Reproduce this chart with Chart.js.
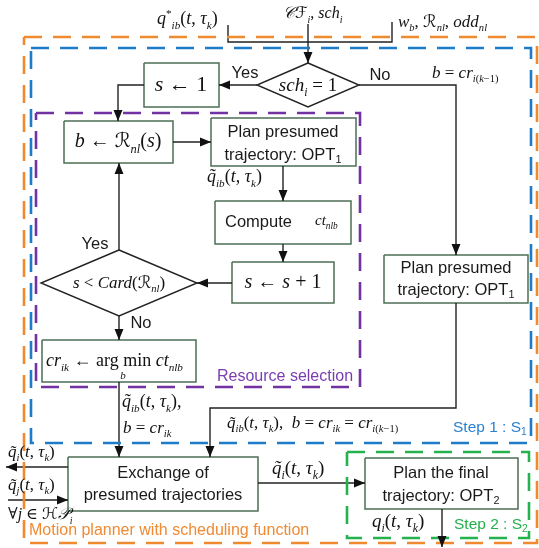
<!DOCTYPE html>
<html>
<head>
<meta charset="utf-8">
<script src="https://cdn.jsdelivr.net/npm/chart.js@4.4.1/dist/chart.umd.min.js"></script>
<style>
    html, body { margin: 0; padding: 0; background: #fff; }
    canvas { display: block; }
</style>
</head>
<body>
<canvas id="diagram" width="539" height="548"></canvas>
<script>
// Quadros tracejados: [x0, y0, x1, y1]
const frameNames = ['motion', 'step1', 'resource', 'step2'];
const frameRects = [[24, 37, 537, 543], [31, 48, 531, 443], [36, 113, 360, 387], [347, 452, 529, 538]];
const frameColors = ['#F08A30', '#1E7BC8', '#7232A2', '#23B24E'];

// Caixas: [x0, y0, x1, y1]
const boxRects = [
    [144, 63, 219, 107],   // s <- 1
    [64, 121, 173, 163],   // b <- R(s)
    [211, 118, 356, 166],  // plan presumed (OPT1)
    [215, 201, 351, 244],  // compute ct
    [232, 262, 334, 303],  // s <- s+1
    [42, 340, 196, 382],   // cr_ik <- argmin
    [384, 255, 528, 303],  // plan presumed (direita)
    [68, 457, 258, 511],   // exchange
    [365, 458, 518, 509]   // plan the final
];

// Losangos: [cx, cy, meia largura, meia altura]
const diamonds = [[308, 85, 51, 22], [119, 283, 78, 33]];

// Ligações: lista de pontos, último ponto = ponta da seta
const edges = [
    [[228, 25], [228, 42], [392, 42], [392, 22]],
    [[308, 24], [308, 63]],
    [[257, 85], [219, 85]],
    [[144, 85], [118, 85], [118, 121]],
    [[173, 142], [211, 142]],
    [[283, 166], [283, 201]],
    [[283, 244], [283, 262]],
    [[232, 283], [197, 283]],
    [[119, 250], [119, 163]],
    [[119, 316], [119, 340]],
    [[119, 382], [119, 457]],
    [[359, 85], [456, 85], [456, 255]],
    [[456, 303], [456, 408], [210, 408], [210, 457]],
    [[68, 467], [6, 467]],
    [[8, 500], [68, 500]],
    [[258, 483], [365, 483]],
    [[442, 509], [442, 547]]
];
const edgeArrows = [false, true, true, true, true, true, true, true, true, true, true, true, true, true, true, true, true];

// Textos matemáticos: [marcação, x, y, tamanho, alinhamento]
const mathLabels = [
    ['q^{*}_{ib}(t, τ_k)', 157, 19, 18, 'left'],
    ['𝒞ℱ_{i}, sch_{i}', 283, 14, 16, 'left'],
    ['w_{b}, ℛ_{nl}, odd_{nl}', 398, 22, 17, 'left'],
    ['sch_{i} = 1', 308, 86, 19, 'center'],
    ['b = cr_{i(k−1)}', 432, 73, 17, 'left'],
    ['s ← 1', 181, 85, 22, 'center'],
    ['b ← ℛ_{nl}(s)', 118, 142, 20, 'center'],
    ['q̃_{ib}(t, τ_k)', 207, 177, 18, 'left'],
    ['ct_{nlb}', 315, 221, 15, 'left'],
    ['s ← s + 1', 283, 283, 20, 'center'],
    ['s < Card(ℛ_{nl})', 119, 283, 17, 'center'],
    ['cr_{ik} ← #arg min# ct_{nlb}', 46, 361, 18, 'left'],
    ['b', 123, 376, 11, 'center'],
    ['q̃_{ib}(t, τ_k),', 122, 402, 18, 'left'],
    ['b = cr_{ik}', 123, 428, 17, 'left'],
    ['q̃_{ib}(t, τ_k),  b = cr_{ik} = cr_{i(k−1)}', 227, 423, 17, 'left'],
    ['q̃_{i}(t, τ_k)', 8, 452, 17, 'left'],
    ['q̃_{j}(t, τ_k)', 8, 485, 17, 'left'],
    ['∀j ∈ ℋ𝒫_{i}', 8, 515, 16, 'left'],
    ['q̃_{i}(t, τ_k)', 272, 469, 19, 'left'],
    ['q_{i}(t, τ_k)', 372, 522, 19, 'left']
];

// Textos sem serifa: [texto, x, y, alinhamento, cor, tamanho]
const sansLabels = [
    ['Yes', 245, 72, 'center', '#1a1a1a', 16.5],
    ['No', 380, 74, 'center', '#1a1a1a', 16.5],
    ['Plan presumed', 283, 131, 'center', '#1a1a1a', 16.5],
    ['trajectory: OPT_1', 283, 154, 'center', '#1a1a1a', 16.5],
    ['Compute', 225, 221, 'left', '#1a1a1a', 16.5],
    ['Yes', 95, 243, 'center', '#1a1a1a', 16.5],
    ['No', 141, 322, 'center', '#1a1a1a', 16.5],
    ['Resource selection', 285, 375, 'center', '#7A3DB0', 16],
    ['Plan presumed', 456, 267, 'center', '#1a1a1a', 16.5],
    ['trajectory: OPT_1', 456, 289, 'center', '#1a1a1a', 16.5],
    ['Step 1 : S_1', 453, 426, 'left', '#2A80D0', 15.5],
    ['Exchange of', 163, 472, 'center', '#1a1a1a', 16.5],
    ['presumed trajectories', 163, 494, 'center', '#1a1a1a', 16.5],
    ['Motion planner with scheduling function', 29, 529, 'left', '#F08A33', 16],
    ['Plan the final', 441, 472, 'center', '#1a1a1a', 16.5],
    ['trajectory: OPT_2', 441, 495, 'center', '#1a1a1a', 16.5],
    ['Step 2 : S_2', 454, 523, 'left', '#23B04C', 15.5]
];

const SERIF = "'Liberation Serif', 'DejaVu Serif', 'DejaVu Sans', serif";
const SANS = "'Liberation Sans', Arial, 'DejaVu Sans', sans-serif";
const BOX_COLOR = '#4C6F55';
const LINE_COLOR = '#222';

function rectPoints(r) {
    return [{x: r[0], y: r[1]}, {x: r[2], y: r[1]}, {x: r[2], y: r[3]}, {x: r[0], y: r[3]}, {x: r[0], y: r[1]}];
}

function diamondPoints(d) {
    return [{x: d[0], y: d[1] - d[3]}, {x: d[0] + d[2], y: d[1]}, {x: d[0], y: d[1] + d[3]},
            {x: d[0] - d[2], y: d[1]}, {x: d[0], y: d[1] - d[3]}];
}

function lineSet(points, color, width, dash) {
    return {
        data: points,
        showLine: true,
        borderColor: color,
        borderWidth: width,
        borderDash: dash || [],
        pointRadius: 0,
        fill: false,
        tension: 0
    };
}

const datasets = [];
frameRects.forEach((r, i) => datasets.push(lineSet(rectPoints(r), frameColors[i], 2.6, [18, 11])));
edges.forEach(e => datasets.push(lineSet(e.map(p => ({x: p[0], y: p[1]})), LINE_COLOR, 1.4)));
boxRects.forEach(r => datasets.push(lineSet(rectPoints(r), BOX_COLOR, 1.5)));
diamonds.forEach(d => datasets.push(lineSet(diamondPoints(d), '#222', 1.4)));

// Quebra a marcação em pedaços com estilo (itálico, subscrito, sobrescrito)
function parseRich(str, math) {
    const chars = Array.from(str);
    const segs = [];
    let roman = false;
    let i = 0;
    function addChar(t, level) {
        const script = /[ℛℱℋ𝒞𝒫]/u.test(t);
        const italic = math && !roman && (/[A-Za-zα-ω]/.test(t[0]) || script);
        const last = segs[segs.length - 1];
        if (last && last.level === level && last.italic === italic) last.text += t;
        else segs.push({text: t, level: level, italic: italic});
    }
    while (i < chars.length) {
        const c = chars[i];
        if (c === '#') { roman = !roman; i++; continue; }
        if (c === '_' || c === '^') {
            const level = c === '_' ? -1 : 1;
            i++;
            const group = [];
            if (chars[i] === '{') {
                i++;
                while (i < chars.length && chars[i] !== '}') group.push(chars[i++]);
                i++;
            } else {
                group.push(chars[i++]);
            }
            group.forEach(g => addChar(g, level));
            continue;
        }
        let t = c;
        i++;
        while (i < chars.length && /[\u0300-\u036f]/.test(chars[i])) t += chars[i++];
        addChar(t, 0);
    }
    return segs;
}

function drawRich(ctx, str, x, y, size, align, family, color, math) {
    const segs = parseRich(str, math);
    const subScale = math ? 0.62 : 0.66;
    const fontOf = s => (s.italic ? 'italic ' : '') + (s.level === 0 ? size : size * subScale) + 'px ' + family;
    let total = 0;
    segs.forEach(s => { ctx.font = fontOf(s); s.w = ctx.measureText(s.text).width; total += s.w; });
    let cx = align === 'center' ? x - total / 2 : x;
    const base = y + size * (math ? 0.27 : 0.36);
    ctx.fillStyle = color;
    ctx.textBaseline = 'alphabetic';
    ctx.textAlign = 'left';
    segs.forEach(s => {
        ctx.font = fontOf(s);
        const dy = s.level === -1 ? size * (math ? 0.28 : 0.2) : (s.level === 1 ? -size * 0.38 : 0);
        ctx.fillText(s.text, cx, base + dy);
        cx += s.w;
    });
}

// Desenha pontas de seta e textos usando as escalas do gráfico
const diagramPlugin = {
    id: 'diagram',
    afterDatasetsDraw(chart) {
        const ctx = chart.ctx;
        const xs = chart.scales.x;
        const ys = chart.scales.y;
        const px = v => xs.getPixelForValue(v);
        const py = v => ys.getPixelForValue(v);
        ctx.save();
        edges.forEach((e, i) => {
            if (!edgeArrows[i]) return;
            const a = e[e.length - 2], b = e[e.length - 1];
            const x1 = px(a[0]), y1 = py(a[1]), x2 = px(b[0]), y2 = py(b[1]);
            const ang = Math.atan2(y2 - y1, x2 - x1);
            const len = 11, half = 4.5;
            ctx.beginPath();
            ctx.moveTo(x2, y2);
            ctx.lineTo(x2 - len * Math.cos(ang) - half * Math.sin(ang), y2 - len * Math.sin(ang) + half * Math.cos(ang));
            ctx.lineTo(x2 - len * Math.cos(ang) + half * Math.sin(ang), y2 - len * Math.sin(ang) - half * Math.cos(ang));
            ctx.closePath();
            ctx.fillStyle = '#111';
            ctx.fill();
        });
        mathLabels.forEach(l => drawRich(ctx, l[0], px(l[1]), py(l[2]), l[3], l[4], SERIF, '#111', true));
        sansLabels.forEach(l => drawRich(ctx, l[0], px(l[1]), py(l[2]), l[5], l[3], SANS, l[4], false));
        ctx.restore();
    }
};

new Chart(document.getElementById('diagram').getContext('2d'), {
    type: 'scatter',
    data: { datasets: datasets },
    options: {
        responsive: false,
        animation: false,
        devicePixelRatio: 1,
        events: [],
        layout: { padding: 0 },
        plugins: {
            legend: { display: false },
            tooltip: { enabled: false }
        },
        scales: {
            x: { type: 'linear', min: 0, max: 539, display: false },
            y: { type: 'linear', min: 0, max: 548, reverse: true, display: false }
        }
    },
    plugins: [diagramPlugin]
});
</script>
</body>
</html>
